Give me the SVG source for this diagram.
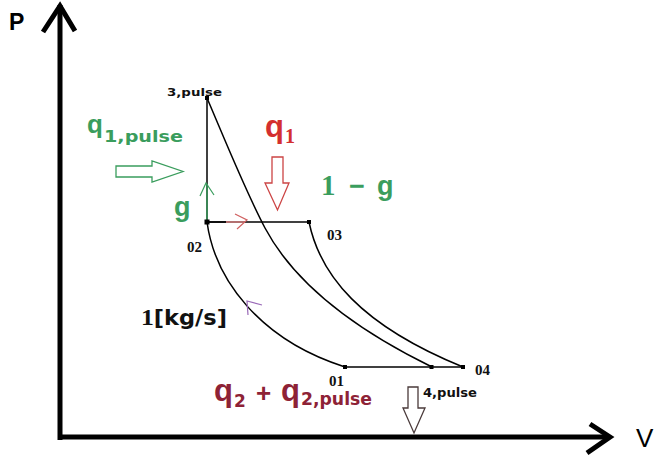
<svg xmlns="http://www.w3.org/2000/svg" width="654" height="458" viewBox="0 0 654 458">
<style>
.axis{stroke:#000;stroke-width:5;fill:none;stroke-linecap:butt}
.curve{stroke:#000;stroke-width:1.5;fill:none}
.lbl{font-family:"DejaVu Sans",sans-serif;font-weight:bold;fill:#111}
.num{font-family:"Liberation Serif",serif;font-weight:bold;fill:#111;font-size:15px}
.sans{font-family:"Liberation Sans",Arial,sans-serif;font-weight:bold}
.serif{font-family:"Liberation Serif",serif;font-weight:bold}
.green{fill:#3a9d5d}
.red{fill:#d42f2f}
.dred{fill:#8e2236}
.harrow{fill:#fff;stroke-width:1.3}
.dot{fill:#000}
</style>
<rect width="654" height="458" fill="#fff"/>
<g id="axes">
<line class="axis" x1="60" y1="440" x2="60" y2="5"/>
<polyline class="axis" points="43,32 60,6 75,31"/>
<line class="axis" x1="58" y1="437" x2="610" y2="437"/>
<polyline class="axis" points="590,424 610,437 587,453"/>
<text x="9" y="30" class="sans" font-size="23">P</text>
<text x="636" y="447" font-family="Liberation Sans, Arial, sans-serif" font-size="26">V</text>
</g>
<g id="connectors">
<line class="curve" x1="207" y1="98" x2="207" y2="222"/>
<line class="curve" x1="207" y1="222" x2="309" y2="222"/>
<line class="curve" x1="207" y1="222" x2="226" y2="222" stroke-width="3"/>
<line class="curve" x1="345" y1="367" x2="463" y2="367"/>
<path class="curve" d="M207,98 C225,140 245,190 265,228 C290,275 340,322 432,367"/>
<path class="curve" d="M309,222 C320,275 360,325 463,367"/>
<path class="curve" d="M207,222 C215,280 260,340 345,367"/>
<line x1="207" y1="184" x2="207" y2="220" stroke="#3a9d5d" stroke-width="1.5"/>
<polyline points="200,196 206,183 214,195" fill="none" stroke="#3a9d5d" stroke-width="1.2"/>
<line x1="226" y1="222" x2="245" y2="222" stroke="#d98080" stroke-width="1.5"/>
<polyline points="235,214 247,220 237,229" fill="none" stroke="#d06060" stroke-width="1.2"/>
<polyline points="262,305 247,301 248,315" fill="none" stroke="#9a6ab8" stroke-width="1.2"/>
</g>
<g id="n3pulse">
<rect class="dot" x="205" y="96" width="4" height="4"/>
<text x="167" y="96" class="lbl" font-size="11" textLength="55" lengthAdjust="spacingAndGlyphs">3,pulse</text>
</g>
<g id="n02">
<rect class="dot" x="204.5" y="219.5" width="5" height="5"/>
<text x="187" y="252" class="num">02</text>
</g>
<g id="n03">
<rect class="dot" x="307" y="220" width="4" height="4"/>
<text x="327" y="240" class="num">03</text>
</g>
<g id="n01">
<rect class="dot" x="343" y="365" width="4" height="4"/>
<text x="329" y="386" class="num">01</text>
</g>
<g id="n4pulse">
<rect class="dot" x="429.5" y="365" width="4" height="4"/>
<text x="423" y="397" class="lbl" font-size="12" textLength="54" lengthAdjust="spacingAndGlyphs">4,pulse</text>
</g>
<g id="n04">
<rect class="dot" x="461" y="365" width="4" height="4"/>
<text x="475" y="375" class="num">04</text>
</g>
<g id="q1pulse">
<text x="87" y="133" class="sans green" font-size="26">q</text>
<text x="104" y="142" class="lbl green" font-size="16" textLength="79" lengthAdjust="spacingAndGlyphs">1,pulse</text>
<polygon class="harrow" stroke="#3a9d5d" points="116,166 152,166 152,161 183,171.5 152,182 152,177 116,177"/>
</g>
<g id="q1">
<text x="265" y="137" class="sans red" font-size="31">q</text>
<text x="285" y="143" class="serif red" font-size="20">1</text>
<polygon class="harrow" stroke="#c44" points="272,157 283,157 283,183 289,183 277.5,210 265,183 272,183"/>
</g>
<g id="oneminusg">
<text x="321" y="195" class="serif green" font-size="29">1</text>
<text x="349" y="195" class="sans green" font-size="27">−</text>
<text x="377" y="195" class="sans green" font-size="27">g</text>
</g>
<g id="g">
<text x="174" y="216" class="sans green" font-size="27">g</text>
</g>
<g id="massflow">
<text x="141" y="325" class="lbl" font-size="21" textLength="86" lengthAdjust="spacingAndGlyphs"><tspan font-family="Liberation Serif, serif" font-size="24">1</tspan>[kg/s]</text>
</g>
<g id="q2">
<text x="214" y="401" class="sans dred" font-size="31">q</text>
<text x="234" y="407" class="lbl dred" font-size="17">2</text>
<text x="256" y="402" class="sans dred" font-size="26">+</text>
<text x="281" y="401" class="sans dred" font-size="31">q</text>
<text x="301" y="405" class="lbl dred" font-size="17" textLength="71" lengthAdjust="spacingAndGlyphs">2,pulse</text>
<polygon class="harrow" stroke="#4a3a3a" points="408,387 418,387 418,408 425,408 414,433 403,408 408,408"/>
</g>
</svg>
